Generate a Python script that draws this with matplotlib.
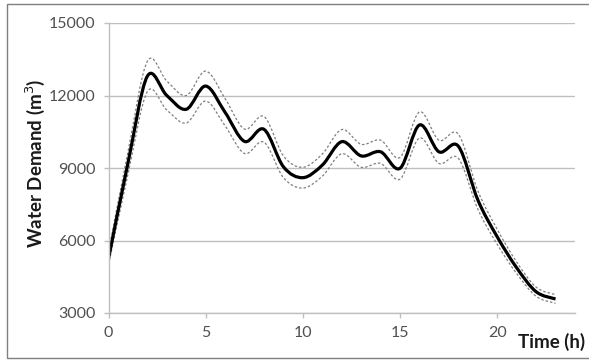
import numpy as np
import matplotlib
matplotlib.use("Agg")
import matplotlib.pyplot as plt
from matplotlib.path import Path
from matplotlib.patches import PathPatch, Rectangle

plt.rcParams['font.family'] = ['Lato', 'DejaVu Sans']

# hourly demand
hours = list(range(24))
demand = [5250, 9200, 12800, 12000, 11430, 12390, 11300, 10100, 10600, 9050,
          8600, 9120, 10090, 9500, 9670, 8990, 10780, 9670, 9900, 7680,
          6150, 4870, 3880, 3580]
upper = [5510, 9660, 13420, 12600, 12000, 13010, 11870, 10610, 11130, 9500,
         9030, 9580, 10590, 9980, 10150, 9440, 11320, 10150, 10400, 8060,
         6460, 5110, 4070, 3760]
lower = [4990, 8740, 12160, 11400, 10860, 11770, 10740, 9600, 10070, 8600,
         8170, 8660, 9590, 9030, 9190, 8540, 10240, 9190, 9400, 7300,
         5840, 4630, 3690, 3400]

yticks = [3000, 6000, 9000, 12000, 15000]
xticks = [0, 5, 10, 15, 20]


def smooth_path(x, y):
    # Excel-like smoothed line: cubic bezier through every point
    x = np.asarray(x, float)
    y = np.asarray(y, float)
    verts = [(x[0], y[0])]
    codes = [Path.MOVETO]
    n = len(x)
    for i in range(n - 1):
        x0, y0 = (x[i - 1], y[i - 1]) if i > 0 else (x[i], y[i])
        x3, y3 = (x[i + 2], y[i + 2]) if i + 2 < n else (x[i + 1], y[i + 1])
        c1 = (x[i] + (x[i + 1] - x0) / 6, y[i] + (y[i + 1] - y0) / 6)
        c2 = (x[i + 1] - (x3 - x[i]) / 6, y[i + 1] - (y3 - y[i]) / 6)
        verts += [c1, c2, (x[i + 1], y[i + 1])]
        codes += [Path.CURVE4] * 3
    return Path(verts, codes)


fig = plt.figure(figsize=(5.89, 3.6), dpi=100)
ax = fig.add_axes([108.5 / 589, 1 - 313 / 360, (575 - 108.5) / 589, (313 - 23) / 360])

for ys in (upper, lower):
    ax.add_patch(PathPatch(smooth_path(hours, ys), fill=False, edgecolor="#7f7f7f",
                           lw=0.9, linestyle=(0, (2, 1.6))))
ax.add_patch(PathPatch(smooth_path(hours, demand), fill=False, edgecolor="black", lw=2.3))

ax.set_xlim(0, 24)
ax.set_ylim(3000, 15000)
ax.set_xticks(xticks)
ax.set_yticks(yticks)
ax.yaxis.grid(True, color="#bfbfbf", lw=1)
ax.set_axisbelow(True)
for s in ("top", "right"):
    ax.spines[s].set_visible(False)
for s in ("left", "bottom"):
    ax.spines[s].set_color("#bfbfbf")
    ax.spines[s].set_linewidth(1)
ax.tick_params(axis="both", colors="#bfbfbf", length=3.6, width=1, labelcolor="#505050",
               labelsize=11.5)
ax.tick_params(axis="x", pad=6)
ax.tick_params(axis="y", pad=6)

fig.text(35 / 589, 1 - 163 / 360, "Water Demand (m$^3$)", rotation=90, ha="center",
         va="center", fontsize=13.5, fontweight="bold", color="#1a1a1a")
fig.text(552 / 589, 1 - 342 / 360, "Time (h)", ha="center", va="center",
         fontsize=13.5, fontweight="bold", color="#1a1a1a")

fig.add_artist(Rectangle((7 / 589, 2 / 360), 1.0, 354 / 360, transform=fig.transFigure,
                         fill=False, edgecolor="#7f7f7f", lw=1))

fig.savefig("out.png", dpi=100)
